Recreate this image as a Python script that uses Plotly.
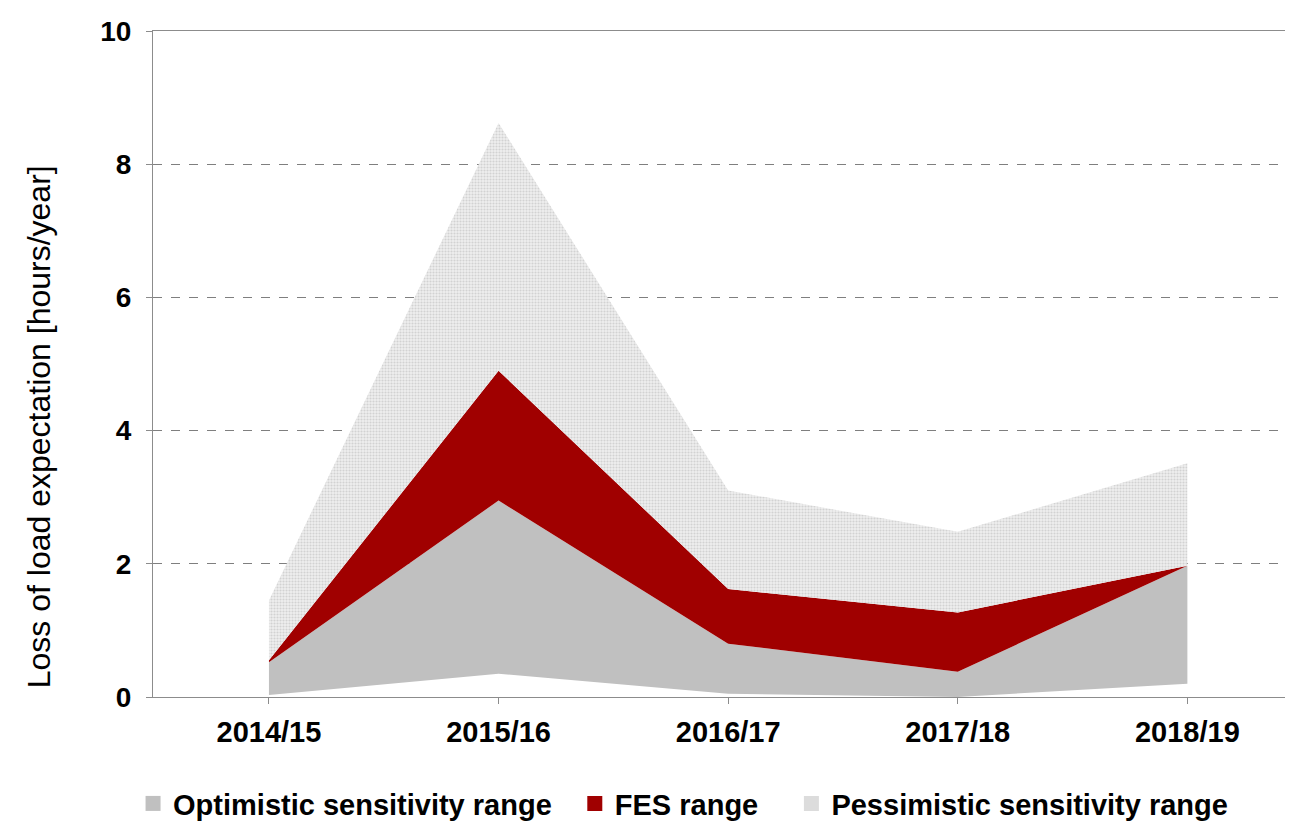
import plotly.graph_objects as go

categories = ["2014/15", "2015/16", "2016/17", "2017/18", "2018/19"]
lower_bound = [0.03, 0.35, 0.05, 0.0, 0.2]
optimistic_top = [0.52, 2.95, 0.8, 0.38, 1.97]
fes_top = [0.55, 4.9, 1.62, 1.27, 1.97]
pessimistic_top = [1.45, 8.62, 3.1, 2.48, 3.51]
y_ticks = [0, 2, 4, 6, 8, 10]
y_title = "Loss of load expectation [hours/year]"

OPT = "#C0C0C0"
FES = "#A00000"
PES = "#E2E2E2"
FONT = "Liberation Sans, Arial, sans-serif"

fig = go.Figure()
fig.add_trace(go.Scatter(x=categories, y=lower_bound, mode="lines", line=dict(width=0),
                         showlegend=False, hoverinfo="skip"))
fig.add_trace(go.Scatter(x=categories, y=optimistic_top, mode="lines", line=dict(width=0),
                         fill="tonexty", fillcolor=OPT, showlegend=False))
fig.add_trace(go.Scatter(x=categories, y=fes_top, mode="lines", line=dict(width=0),
                         fill="tonexty", fillcolor=FES, showlegend=False))
fig.add_trace(go.Scatter(x=categories, y=pessimistic_top, mode="lines", line=dict(width=0),
                         fill="tonexty", fillcolor=PES,
                         fillpattern=dict(shape=".", size=3, solidity=0.4,
                                          fgcolor="#D2D2D2", bgcolor="#EFEFEF", fillmode="replace"),
                         showlegend=False))

# legend entries
for name, col, lg in [("Optimistic sensitivity range", OPT, "legend"),
                      ("FES range", FES, "legend2"),
                      ("Pessimistic sensitivity range", "#DCDCDC", "legend3")]:
    fig.add_trace(go.Scatter(x=[None], y=[None], mode="markers", name=name,
                             marker=dict(symbol="square", size=15, color=col),
                             legend=lg))

leg_common = dict(orientation="h", yanchor="middle", y=-0.16, xanchor="left",
                  font=dict(family=FONT, size=29, color="#000000", weight="bold"),
                  bgcolor="rgba(0,0,0,0)", itemwidth=30)
fig.update_layout(
    width=1285, height=823,
    margin=dict(l=145, r=0, t=23, b=134, autoexpand=False),
    paper_bgcolor="white", plot_bgcolor="white",
    font=dict(family=FONT, color="#000000"),
    legend=dict(leg_common, x=-0.0175),
    legend2=dict(leg_common, x=0.37),
    legend3=dict(leg_common, x=0.56),
    xaxis=dict(range=[-0.505, 4.46], showgrid=False, showline=True, linecolor="#8C8C8C",
               linewidth=1, mirror=True, ticks="outside", ticklen=6, tickcolor="#8C8C8C",
               tickfont=dict(family=FONT, size=29, color="#000000", weight="bold"),
               ticklabelstandoff=3, zeroline=False),
    yaxis=dict(range=[0, 10], tickvals=y_ticks, showgrid=True, gridcolor="#7F7F7F",
               griddash="dash", gridwidth=1, showline=True, linecolor="#8C8C8C", linewidth=1,
               ticks="outside", ticklen=6, tickcolor="#8C8C8C", zeroline=False,
               tickfont=dict(family=FONT, size=28, color="#000000", weight="bold"),
               ticklabelstandoff=9),
    annotations=[dict(text=y_title, xref="paper", yref="paper", x=-0.1, y=0.405,
                      xanchor="center", yanchor="middle", textangle=-90, showarrow=False,
                      font=dict(family=FONT, size=32, color="#000000"))],
)
fig.write_html("out.html")
